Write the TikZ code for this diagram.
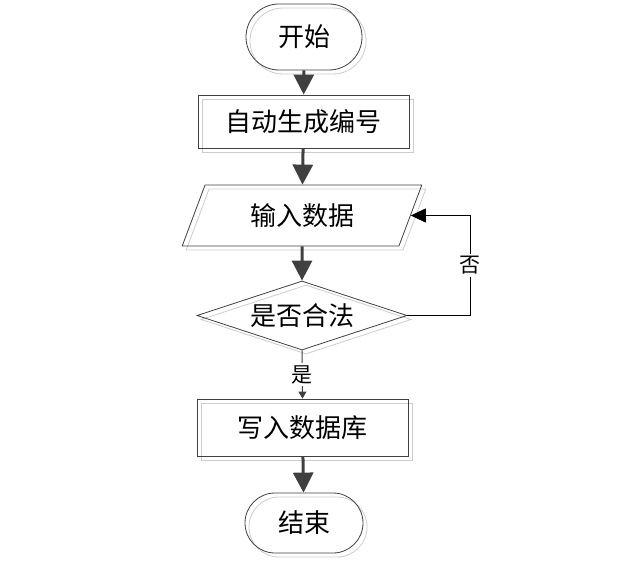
\documentclass[tikz,border=0pt]{standalone}
\usepackage{fontspec}
\newfontfamily\cjk{Noto Sans CJK SC}
\usetikzlibrary{arrows.meta,shapes.geometric,shapes.misc,shadows}
\begin{document}
\begin{tikzpicture}[x=1pt,y=-1pt,
  every node/.style={font=\cjk\fontsize{26pt}{26pt}\selectfont, text=black},
  sh/.style={general shadow={shadow xshift=4pt,shadow yshift=-4pt,draw=black!20,fill=none}},
  base/.style={draw=black!75, line width=0.8pt, inner sep=0pt, sh},
  term/.style={base, rounded rectangle, minimum width=116pt, minimum height=66pt},
  proc/.style={base, rectangle, minimum width=211pt, minimum height=53pt},
  io/.style={base, trapezium, trapezium left angle=63, trapezium right angle=117, trapezium stretches=true, minimum width=240pt, minimum height=61pt},
  dec/.style={base, diamond, aspect=3, minimum width=210pt, minimum height=69pt},
  lab/.style={fill=white, inner sep=2pt, font=\cjk\fontsize{21pt}{21pt}\selectfont},
  big/.style={draw=black!75, line width=3pt, -{Triangle[length=20pt,width=20pt]}},
  thinloop/.style={draw=black, line width=0.8pt, -{Triangle[length=15pt,width=14pt]}},
  yesline/.style={draw=black!75, line width=1pt, -{Triangle[length=7pt,width=8pt]}}
]
\useasboundingbox (0,0) rectangle (634,583);
\node[term] (start) at (304,37) {开始};
\node[proc] (auto) at (303.5,121.5) {自动生成编号};
\node[io] (input) at (302,215.5) {输入数据};
\node[dec] (check) at (302,315.5) {是否合法};
\node[proc, minimum height=57pt] (write) at (302.5,427.5) {写入数据库};
\node[term, minimum width=118pt, minimum height=60pt] (end) at (304,523) {结束};
\coordinate (lx) at (470,0);
\draw[big] (start) -- (auto);
\draw[big] (auto) -- (input);
\draw[big] (input) -- (check);
\draw[big] (write) -- (end);
\draw[yesline] (check.south) -- node[lab] {是} (write.north);
\draw[thinloop] (check.east) -- (check.east -| lx) -- node[lab] {否} (input.east -| lx) -- (input.east);
\end{tikzpicture}
\end{document}
